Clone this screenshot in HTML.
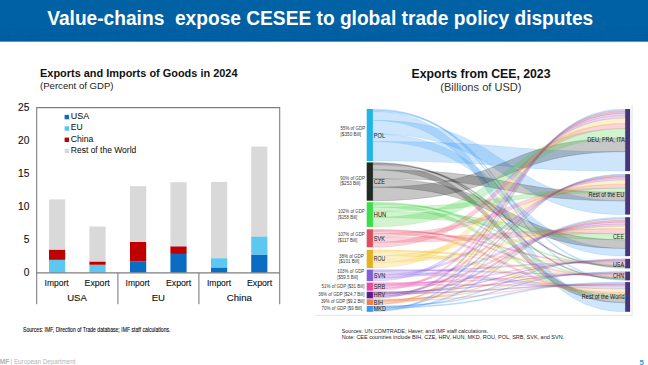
<!DOCTYPE html>
<html><head><meta charset="utf-8">
<style>
html,body{margin:0;padding:0;}
body{width:648px;height:365px;overflow:hidden;background:#fff;position:relative;font-family:"Liberation Sans",sans-serif;}
svg{position:absolute;left:0;top:0;font-family:"Liberation Sans",sans-serif;}
.nl{font-size:6.4px;fill:#222;stroke:#222;stroke-width:0.04px;}
.gl{font-size:5.0px;fill:#3a3a3a;}
.ax{font-size:10.2px;fill:#111;stroke:#111;stroke-width:0.12px;}
.xl{font-size:9.6px;fill:#111;stroke:#111;stroke-width:0.12px;}
</style></head><body>
<svg width="648" height="365" viewBox="0 0 648 365">
<rect x="0" y="0" width="648" height="41.6" fill="#0061a5"/>
<rect x="0" y="39.8" width="648" height="1.8" fill="rgba(0,50,120,0.12)"/>
<polyline points="0,29.0 12,29.3 24,29.6 36,29.8 48,30.1 60,30.3 72,30.4 84,30.5 96,30.5 108,30.5 120,30.4 132,30.2 144,30.0 156,29.8 168,29.5 180,29.2 192,28.9 204,28.6 216,28.3 228,28.1 240,27.9 252,27.7 264,27.6 276,27.5 288,27.5 300,27.6 312,27.7 324,27.8 336,28.1 348,28.3 360,28.6 372,28.9 384,29.2 396,29.5 408,29.7 420,30.0 432,30.2 444,30.3 456,30.5 468,30.5 480,30.5 492,30.4 504,30.3 516,30.1 528,29.9 540,29.6 552,29.3 564,29.0 576,28.7 588,28.5 600,28.2 612,28.0 624,27.8 636,27.6 648,27.5" fill="none" stroke="rgba(0,45,110,0.10)" stroke-width="0.6"/>
<polyline points="0,32.0 12,32.2 24,32.3 36,32.4 48,32.5 60,32.5 72,32.4 84,32.3 96,32.1 108,31.9 120,31.6 132,31.4 144,31.1 156,30.8 168,30.5 180,30.2 192,30.0 204,29.8 216,29.6 228,29.5 240,29.5 252,29.5 264,29.6 276,29.8 288,29.9 300,30.2 312,30.4 324,30.7 336,31.0 348,31.3 360,31.6 372,31.9 384,32.1 396,32.3 408,32.4 420,32.5 432,32.5 444,32.5 456,32.4 468,32.2 480,32.0 492,31.8 504,31.5 516,31.2 528,30.9 540,30.6 552,30.3 564,30.1 576,29.8 588,29.7 600,29.6 612,29.5 624,29.5 636,29.6 648,29.7" fill="none" stroke="rgba(0,45,110,0.10)" stroke-width="0.6"/>
<polyline points="0,34.5 12,34.5 24,34.5 36,34.4 48,34.2 60,34.0 72,33.8 84,33.5 96,33.2 108,32.9 120,32.6 132,32.3 144,32.1 156,31.9 168,31.7 180,31.6 192,31.5 204,31.5 216,31.6 228,31.7 240,31.8 252,32.1 264,32.3 276,32.6 288,32.9 300,33.2 312,33.5 324,33.7 336,34.0 348,34.2 360,34.3 372,34.5 384,34.5 396,34.5 408,34.4 420,34.3 432,34.1 444,33.9 456,33.6 468,33.3 480,33.0 492,32.7 504,32.5 516,32.2 528,32.0 540,31.8 552,31.6 564,31.5 576,31.5 588,31.5 600,31.6 612,31.8 624,32.0 636,32.2 648,32.5" fill="none" stroke="rgba(0,45,110,0.10)" stroke-width="0.6"/>
<polyline points="0,36.3 12,36.1 24,35.9 36,35.6 48,35.4 60,35.1 72,34.8 84,34.5 96,34.2 108,34.0 120,33.8 132,33.6 144,33.5 156,33.5 168,33.5 180,33.6 192,33.8 204,33.9 216,34.2 228,34.4 240,34.7 252,35.0 264,35.3 276,35.6 288,35.9 300,36.1 312,36.3 324,36.4 336,36.5 348,36.5 360,36.5 372,36.4 384,36.2 396,36.0 408,35.8 420,35.5 432,35.2 444,34.9 456,34.6 468,34.3 480,34.1 492,33.8 504,33.7 516,33.6 528,33.5 540,33.5 552,33.6 564,33.7 576,33.9 588,34.1 600,34.3 612,34.6 624,34.9 636,35.2 648,35.5" fill="none" stroke="rgba(0,45,110,0.10)" stroke-width="0.6"/>
<polyline points="0,37.5 12,37.2 24,36.9 36,36.6 48,36.3 60,36.1 72,35.9 84,35.7 96,35.6 108,35.5 120,35.5 132,35.6 144,35.7 156,35.8 168,36.1 180,36.3 192,36.6 204,36.9 216,37.2 228,37.5 240,37.7 252,38.0 264,38.2 276,38.3 288,38.5 300,38.5 312,38.5 324,38.4 336,38.3 348,38.1 360,37.9 372,37.6 384,37.3 396,37.0 408,36.7 420,36.5 432,36.2 444,36.0 456,35.8 468,35.6 480,35.5 492,35.5 504,35.5 516,35.6 528,35.8 540,36.0 552,36.2 564,36.5 576,36.8 588,37.1 600,37.3 612,37.6 624,37.9 636,38.1 648,38.3" fill="none" stroke="rgba(0,45,110,0.10)" stroke-width="0.6"/>
<polyline points="0,38.5 12,38.2 24,38.0 36,37.8 48,37.6 60,37.5 72,37.5 84,37.5 96,37.6 108,37.8 120,37.9 132,38.2 144,38.4 156,38.7 168,39.0 180,39.3 192,39.6 204,39.9 216,40.1 228,40.3 240,40.4 252,40.5 264,40.5 276,40.5 288,40.4 300,40.2 312,40.0 324,39.8 336,39.5 348,39.2 360,38.9 372,38.6 384,38.3 396,38.1 408,37.8 420,37.7 432,37.6 444,37.5 456,37.5 468,37.6 480,37.7 492,37.9 504,38.1 516,38.3 528,38.6 540,38.9 552,39.2 564,39.5 576,39.8 588,40.0 600,40.2 612,40.4 624,40.5 636,40.5 648,40.5" fill="none" stroke="rgba(0,45,110,0.10)" stroke-width="0.6"/>
<polyline points="0,39.7 12,39.6 24,39.5 36,39.5 48,39.6 60,39.7 72,39.8 84,40.1 96,40.3 108,40.6 120,40.9 132,41.2 144,41.5 156,41.7 168,42.0 180,42.2 192,42.3 204,42.5 216,42.5 228,42.5 240,42.4 252,42.3 264,42.1 276,41.9 288,41.6 300,41.3 312,41.0 324,40.7 336,40.5 348,40.2 360,40.0 372,39.8 384,39.6 396,39.5 408,39.5 420,39.5 432,39.6 444,39.8 456,40.0 468,40.2 480,40.5 492,40.8 504,41.1 516,41.3 528,41.6 540,41.9 552,42.1 564,42.3 576,42.4 588,42.5 600,42.5 612,42.4 624,42.3 636,42.2 648,42.0" fill="none" stroke="rgba(0,45,110,0.10)" stroke-width="0.6"/>
<path d="M6,27Q10,34 8,41.6" fill="none" stroke="rgba(0,45,110,0.08)" stroke-width="0.6"/>
<path d="M28,27Q32,34 30,41.6" fill="none" stroke="rgba(0,45,110,0.08)" stroke-width="0.6"/>
<path d="M50,27Q54,34 52,41.6" fill="none" stroke="rgba(0,45,110,0.08)" stroke-width="0.6"/>
<path d="M72,27Q76,34 74,41.6" fill="none" stroke="rgba(0,45,110,0.08)" stroke-width="0.6"/>
<path d="M94,27Q98,34 96,41.6" fill="none" stroke="rgba(0,45,110,0.08)" stroke-width="0.6"/>
<path d="M116,27Q120,34 118,41.6" fill="none" stroke="rgba(0,45,110,0.08)" stroke-width="0.6"/>
<path d="M138,27Q142,34 140,41.6" fill="none" stroke="rgba(0,45,110,0.08)" stroke-width="0.6"/>
<path d="M160,27Q164,34 162,41.6" fill="none" stroke="rgba(0,45,110,0.08)" stroke-width="0.6"/>
<path d="M182,27Q186,34 184,41.6" fill="none" stroke="rgba(0,45,110,0.08)" stroke-width="0.6"/>
<path d="M204,27Q208,34 206,41.6" fill="none" stroke="rgba(0,45,110,0.08)" stroke-width="0.6"/>
<path d="M226,27Q230,34 228,41.6" fill="none" stroke="rgba(0,45,110,0.08)" stroke-width="0.6"/>
<path d="M248,27Q252,34 250,41.6" fill="none" stroke="rgba(0,45,110,0.08)" stroke-width="0.6"/>
<path d="M270,27Q274,34 272,41.6" fill="none" stroke="rgba(0,45,110,0.08)" stroke-width="0.6"/>
<path d="M292,27Q296,34 294,41.6" fill="none" stroke="rgba(0,45,110,0.08)" stroke-width="0.6"/>
<path d="M314,27Q318,34 316,41.6" fill="none" stroke="rgba(0,45,110,0.08)" stroke-width="0.6"/>
<path d="M336,27Q340,34 338,41.6" fill="none" stroke="rgba(0,45,110,0.08)" stroke-width="0.6"/>
<path d="M358,27Q362,34 360,41.6" fill="none" stroke="rgba(0,45,110,0.08)" stroke-width="0.6"/>
<path d="M380,27Q384,34 382,41.6" fill="none" stroke="rgba(0,45,110,0.08)" stroke-width="0.6"/>
<path d="M402,27Q406,34 404,41.6" fill="none" stroke="rgba(0,45,110,0.08)" stroke-width="0.6"/>
<path d="M424,27Q428,34 426,41.6" fill="none" stroke="rgba(0,45,110,0.08)" stroke-width="0.6"/>
<path d="M446,27Q450,34 448,41.6" fill="none" stroke="rgba(0,45,110,0.08)" stroke-width="0.6"/>
<path d="M468,27Q472,34 470,41.6" fill="none" stroke="rgba(0,45,110,0.08)" stroke-width="0.6"/>
<path d="M490,27Q494,34 492,41.6" fill="none" stroke="rgba(0,45,110,0.08)" stroke-width="0.6"/>
<path d="M512,27Q516,34 514,41.6" fill="none" stroke="rgba(0,45,110,0.08)" stroke-width="0.6"/>
<path d="M534,27Q538,34 536,41.6" fill="none" stroke="rgba(0,45,110,0.08)" stroke-width="0.6"/>
<path d="M556,27Q560,34 558,41.6" fill="none" stroke="rgba(0,45,110,0.08)" stroke-width="0.6"/>
<path d="M578,27Q582,34 580,41.6" fill="none" stroke="rgba(0,45,110,0.08)" stroke-width="0.6"/>
<path d="M600,27Q604,34 602,41.6" fill="none" stroke="rgba(0,45,110,0.08)" stroke-width="0.6"/>
<path d="M622,27Q626,34 624,41.6" fill="none" stroke="rgba(0,45,110,0.08)" stroke-width="0.6"/>
<path d="M644,27Q648,34 646,41.6" fill="none" stroke="rgba(0,45,110,0.08)" stroke-width="0.6"/>
<text x="47.2" y="24.9" textLength="546" lengthAdjust="spacingAndGlyphs" style="font-size:19.5px;font-weight:bold;fill:#fff">Value-chains&#160; expose CESEE to global trade policy disputes</text>
<!-- left chart -->
<text x="40" y="77" textLength="197.5" lengthAdjust="spacingAndGlyphs" style="font-size:10.9px;font-weight:bold;fill:#111">Exports and Imports of Goods in 2024</text>
<text x="40" y="88.6" textLength="73.5" lengthAdjust="spacingAndGlyphs" style="font-size:9.8px;fill:#222">(Percent of GDP)</text>
<rect x="49.0" y="259.82" width="16.2" height="12.88" fill="#5cc7f0"/>
<rect x="49.0" y="249.59" width="16.2" height="10.24" fill="#c00000"/>
<rect x="49.0" y="199.40" width="16.2" height="50.19" fill="#d9d9d9"/>
<rect x="89.4" y="264.78" width="16.2" height="7.92" fill="#5cc7f0"/>
<rect x="89.4" y="261.47" width="16.2" height="3.30" fill="#c00000"/>
<rect x="89.4" y="226.47" width="16.2" height="35.00" fill="#d9d9d9"/>
<rect x="130.0" y="261.28" width="16.2" height="11.42" fill="#0a6cc2"/>
<rect x="130.0" y="241.99" width="16.2" height="19.28" fill="#c00000"/>
<rect x="130.0" y="186.19" width="16.2" height="55.80" fill="#d9d9d9"/>
<rect x="170.4" y="253.94" width="16.2" height="18.76" fill="#0a6cc2"/>
<rect x="170.4" y="246.28" width="16.2" height="7.66" fill="#c00000"/>
<rect x="170.4" y="182.23" width="16.2" height="64.06" fill="#d9d9d9"/>
<rect x="211.0" y="267.42" width="16.2" height="5.28" fill="#0a6cc2"/>
<rect x="211.0" y="258.17" width="16.2" height="9.25" fill="#5cc7f0"/>
<rect x="211.0" y="181.89" width="16.2" height="76.28" fill="#d9d9d9"/>
<rect x="251.2" y="254.54" width="16.2" height="18.16" fill="#0a6cc2"/>
<rect x="251.2" y="236.38" width="16.2" height="18.16" fill="#5cc7f0"/>
<rect x="251.2" y="146.56" width="16.2" height="89.81" fill="#d9d9d9"/>
<path d="M36.7,304.2V107.6H279.7V304.2" fill="none" stroke="#7f7f7f" stroke-width="1.1"/>
<path d="M36.7,272.9H279.7M117.9,272.9V304.2M198.9,272.9V304.2" fill="none" stroke="#7f7f7f" stroke-width="1.1"/>
<g class="ax" text-anchor="end">
<text x="29.4" y="110.6">25</text><text x="29.4" y="143.8">20</text><text x="29.4" y="176.8">15</text>
<text x="29.4" y="209.8">10</text><text x="29.4" y="243">5</text><text x="29.4" y="276">0</text>
</g>
<rect x="64.6" y="114.9" width="4.4" height="4.4" fill="#0a6cc2"/>
<rect x="64.6" y="126.3" width="4.4" height="4.4" fill="#55c5f0"/>
<rect x="64.6" y="137.6" width="4.4" height="4.4" fill="#c00000"/>
<rect x="64.6" y="148.7" width="4.4" height="4.4" fill="#d9d9d9"/>
<g style="font-size:9.7px;fill:#111;stroke:#111;stroke-width:0.05px">
<text x="70.8" y="118.6" textLength="18.4" lengthAdjust="spacingAndGlyphs">USA</text>
<text x="70.8" y="130.4" textLength="11.9" lengthAdjust="spacingAndGlyphs">EU</text>
<text x="70.8" y="141.6" textLength="22.6" lengthAdjust="spacingAndGlyphs">China</text>
<text x="70.8" y="153.4" textLength="65.5" lengthAdjust="spacingAndGlyphs">Rest of the World</text>
</g>
<g class="xl">
<text x="44.6" y="285.8" textLength="24" lengthAdjust="spacingAndGlyphs">Import</text><text x="84.6" y="285.8" textLength="25.2" lengthAdjust="spacingAndGlyphs">Export</text>
<text x="125.6" y="285.8" textLength="24" lengthAdjust="spacingAndGlyphs">Import</text><text x="166" y="285.8" textLength="25.2" lengthAdjust="spacingAndGlyphs">Export</text>
<text x="207" y="285.8" textLength="24" lengthAdjust="spacingAndGlyphs">Import</text><text x="247" y="285.8" textLength="25.2" lengthAdjust="spacingAndGlyphs">Export</text>
<text x="77" y="301.3" text-anchor="middle">USA</text><text x="158.3" y="301.3" text-anchor="middle">EU</text><text x="239.3" y="301.3" text-anchor="middle">China</text>
</g>
<text x="23" y="331.5" textLength="147.5" lengthAdjust="spacingAndGlyphs" style="font-size:6.6px;fill:#000;stroke:#000;stroke-width:0.08px">Sources: IMF, Direction of Trade database; IMF staff calculations.</text>

<!-- right chart -->
<text x="411.5" y="77.8" textLength="139" lengthAdjust="spacingAndGlyphs" style="font-size:12.2px;font-weight:bold;fill:#111">Exports from CEE, 2023</text>
<text x="440.3" y="91.3" textLength="81.2" lengthAdjust="spacingAndGlyphs" style="font-size:11px;fill:#333">(Billions of USD)</text>
<path d="M315.5,315.3H632.1V105" fill="none" stroke="#e4e4e4" stroke-width="1"/>
<path d="M372.8,141.60C511.7,141.60 499.0,151.65 625.3,151.65L625.3,171.10C499.0,171.10 511.7,161.00 372.8,161.00Z" fill="rgba(30,140,240,0.22)" stroke="rgba(30,140,240,0.32)" stroke-width="0.4"/>
<path d="M372.8,120.35C511.7,120.35 499.0,200.93 625.3,200.93L625.3,214.60C499.0,214.60 511.7,133.99 372.8,133.99Z" fill="rgba(30,140,240,0.22)" stroke="rgba(30,140,240,0.32)" stroke-width="0.4"/>
<path d="M372.8,133.99C511.7,133.99 499.0,248.47 625.3,248.47L625.3,256.10C499.0,256.10 511.7,141.60 372.8,141.60Z" fill="rgba(30,140,240,0.22)" stroke="rgba(30,140,240,0.32)" stroke-width="0.4"/>
<path d="M372.8,110.08C511.7,110.08 499.0,267.14 625.3,267.14L625.3,268.40C499.0,268.40 511.7,111.34 372.8,111.34Z" fill="rgba(30,140,240,0.22)" stroke="rgba(30,140,240,0.32)" stroke-width="0.4"/>
<path d="M372.8,109.00C511.7,109.00 499.0,279.32 625.3,279.32L625.3,280.40C499.0,280.40 511.7,110.08 372.8,110.08Z" fill="rgba(30,140,240,0.22)" stroke="rgba(30,140,240,0.32)" stroke-width="0.4"/>
<path d="M372.8,111.34C511.7,111.34 499.0,302.76 625.3,302.76L625.3,311.80C499.0,311.80 511.7,120.35 372.8,120.35Z" fill="rgba(30,140,240,0.22)" stroke="rgba(30,140,240,0.32)" stroke-width="0.4"/>
<path d="M372.8,187.13C511.7,187.13 499.0,138.05 625.3,138.05L625.3,151.65C499.0,151.65 511.7,200.70 372.8,200.70Z" fill="rgba(0,0,0,0.22)" stroke="rgba(0,0,0,0.32)" stroke-width="0.4"/>
<path d="M372.8,169.83C511.7,169.83 499.0,192.23 625.3,192.23L625.3,200.93C499.0,200.93 511.7,178.50 372.8,178.50Z" fill="rgba(0,0,0,0.22)" stroke="rgba(0,0,0,0.32)" stroke-width="0.4"/>
<path d="M372.8,178.50C511.7,178.50 499.0,239.82 625.3,239.82L625.3,248.47C499.0,248.47 511.7,187.13 372.8,187.13Z" fill="rgba(0,0,0,0.22)" stroke="rgba(0,0,0,0.32)" stroke-width="0.4"/>
<path d="M372.8,163.40C511.7,163.40 499.0,266.04 625.3,266.04L625.3,267.14C499.0,267.14 511.7,164.50 372.8,164.50Z" fill="rgba(0,0,0,0.22)" stroke="rgba(0,0,0,0.32)" stroke-width="0.4"/>
<path d="M372.8,162.40C511.7,162.40 499.0,278.32 625.3,278.32L625.3,279.32C499.0,279.32 511.7,163.40 372.8,163.40Z" fill="rgba(0,0,0,0.22)" stroke="rgba(0,0,0,0.32)" stroke-width="0.4"/>
<path d="M372.8,164.50C511.7,164.50 499.0,297.41 625.3,297.41L625.3,302.76C499.0,302.76 511.7,169.83 372.8,169.83Z" fill="rgba(0,0,0,0.22)" stroke="rgba(0,0,0,0.32)" stroke-width="0.4"/>
<path d="M372.8,217.41C511.7,217.41 499.0,128.53 625.3,128.53L625.3,138.05C499.0,138.05 511.7,226.90 372.8,226.90Z" fill="rgba(40,200,40,0.22)" stroke="rgba(40,200,40,0.32)" stroke-width="0.4"/>
<path d="M372.8,207.10C511.7,207.10 499.0,188.00 625.3,188.00L625.3,192.23C499.0,192.23 511.7,211.32 372.8,211.32Z" fill="rgba(40,200,40,0.22)" stroke="rgba(40,200,40,0.32)" stroke-width="0.4"/>
<path d="M372.8,211.32C511.7,211.32 499.0,233.71 625.3,233.71L625.3,239.82C499.0,239.82 511.7,217.41 372.8,217.41Z" fill="rgba(40,200,40,0.22)" stroke="rgba(40,200,40,0.32)" stroke-width="0.4"/>
<path d="M372.8,203.20C511.7,203.20 499.0,264.94 625.3,264.94L625.3,266.04C499.0,266.04 511.7,204.29 372.8,204.29Z" fill="rgba(40,200,40,0.22)" stroke="rgba(40,200,40,0.32)" stroke-width="0.4"/>
<path d="M372.8,202.20C511.7,202.20 499.0,277.31 625.3,277.31L625.3,278.32C499.0,278.32 511.7,203.20 372.8,203.20Z" fill="rgba(40,200,40,0.22)" stroke="rgba(40,200,40,0.32)" stroke-width="0.4"/>
<path d="M372.8,204.29C511.7,204.29 499.0,294.60 625.3,294.60L625.3,297.41C499.0,297.41 511.7,207.10 372.8,207.10Z" fill="rgba(40,200,40,0.22)" stroke="rgba(40,200,40,0.32)" stroke-width="0.4"/>
<path d="M372.8,242.35C511.7,242.35 499.0,123.57 625.3,123.57L625.3,128.53C499.0,128.53 511.7,247.30 372.8,247.30Z" fill="rgba(230,60,90,0.22)" stroke="rgba(230,60,90,0.32)" stroke-width="0.4"/>
<path d="M372.8,233.58C511.7,233.58 499.0,184.21 625.3,184.21L625.3,188.00C499.0,188.00 511.7,237.35 372.8,237.35Z" fill="rgba(230,60,90,0.22)" stroke="rgba(230,60,90,0.32)" stroke-width="0.4"/>
<path d="M372.8,237.35C511.7,237.35 499.0,228.69 625.3,228.69L625.3,233.71C499.0,233.71 511.7,242.35 372.8,242.35Z" fill="rgba(230,60,90,0.22)" stroke="rgba(230,60,90,0.32)" stroke-width="0.4"/>
<path d="M372.8,230.35C511.7,230.35 499.0,263.80 625.3,263.80L625.3,264.94C499.0,264.94 511.7,231.48 372.8,231.48Z" fill="rgba(230,60,90,0.22)" stroke="rgba(230,60,90,0.32)" stroke-width="0.4"/>
<path d="M372.8,229.30C511.7,229.30 499.0,276.27 625.3,276.27L625.3,277.31C499.0,277.31 511.7,230.35 372.8,230.35Z" fill="rgba(230,60,90,0.22)" stroke="rgba(230,60,90,0.32)" stroke-width="0.4"/>
<path d="M372.8,231.48C511.7,231.48 499.0,292.50 625.3,292.50L625.3,294.60C499.0,294.60 511.7,233.58 372.8,233.58Z" fill="rgba(230,60,90,0.22)" stroke="rgba(230,60,90,0.32)" stroke-width="0.4"/>
<path d="M372.8,262.45C511.7,262.45 499.0,118.01 625.3,118.01L625.3,123.57C499.0,123.57 511.7,268.00 372.8,268.00Z" fill="rgba(240,190,20,0.22)" stroke="rgba(240,190,20,0.32)" stroke-width="0.4"/>
<path d="M372.8,255.51C511.7,255.51 499.0,179.88 625.3,179.88L625.3,184.21C499.0,184.21 511.7,259.82 372.8,259.82Z" fill="rgba(240,190,20,0.22)" stroke="rgba(240,190,20,0.32)" stroke-width="0.4"/>
<path d="M372.8,259.82C511.7,259.82 499.0,226.06 625.3,226.06L625.3,228.69C499.0,228.69 511.7,262.45 372.8,262.45Z" fill="rgba(240,190,20,0.22)" stroke="rgba(240,190,20,0.32)" stroke-width="0.4"/>
<path d="M372.8,250.77C511.7,250.77 499.0,262.67 625.3,262.67L625.3,263.80C499.0,263.80 511.7,251.90 372.8,251.90Z" fill="rgba(240,190,20,0.22)" stroke="rgba(240,190,20,0.32)" stroke-width="0.4"/>
<path d="M372.8,249.80C511.7,249.80 499.0,275.30 625.3,275.30L625.3,276.27C499.0,276.27 511.7,250.77 372.8,250.77Z" fill="rgba(240,190,20,0.22)" stroke="rgba(240,190,20,0.32)" stroke-width="0.4"/>
<path d="M372.8,251.90C511.7,251.90 499.0,288.88 625.3,288.88L625.3,292.50C499.0,292.50 511.7,255.51 372.8,255.51Z" fill="rgba(240,190,20,0.22)" stroke="rgba(240,190,20,0.32)" stroke-width="0.4"/>
<path d="M372.8,278.41C511.7,278.41 499.0,115.32 625.3,115.32L625.3,118.01C499.0,118.01 511.7,281.10 372.8,281.10Z" fill="rgba(130,90,220,0.22)" stroke="rgba(130,90,220,0.32)" stroke-width="0.4"/>
<path d="M372.8,274.60C511.7,274.60 499.0,178.02 625.3,178.02L625.3,179.88C499.0,179.88 511.7,276.46 372.8,276.46Z" fill="rgba(130,90,220,0.22)" stroke="rgba(130,90,220,0.32)" stroke-width="0.4"/>
<path d="M372.8,276.46C511.7,276.46 499.0,224.10 625.3,224.10L625.3,226.06C499.0,226.06 511.7,278.41 372.8,278.41Z" fill="rgba(130,90,220,0.22)" stroke="rgba(130,90,220,0.32)" stroke-width="0.4"/>
<path d="M372.8,270.58C511.7,270.58 499.0,261.59 625.3,261.59L625.3,262.67C499.0,262.67 511.7,271.66 372.8,271.66Z" fill="rgba(130,90,220,0.22)" stroke="rgba(130,90,220,0.32)" stroke-width="0.4"/>
<path d="M372.8,269.60C511.7,269.60 499.0,274.31 625.3,274.31L625.3,275.30C499.0,275.30 511.7,270.58 372.8,270.58Z" fill="rgba(130,90,220,0.22)" stroke="rgba(130,90,220,0.32)" stroke-width="0.4"/>
<path d="M372.8,271.66C511.7,271.66 499.0,285.93 625.3,285.93L625.3,288.88C499.0,288.88 511.7,274.60 372.8,274.60Z" fill="rgba(130,90,220,0.22)" stroke="rgba(130,90,220,0.32)" stroke-width="0.4"/>
<path d="M372.8,288.64C511.7,288.64 499.0,113.26 625.3,113.26L625.3,115.32C499.0,115.32 511.7,290.70 372.8,290.70Z" fill="rgba(230,70,170,0.22)" stroke="rgba(230,70,170,0.32)" stroke-width="0.4"/>
<path d="M372.8,285.41C511.7,285.41 499.0,176.76 625.3,176.76L625.3,178.02C499.0,178.02 511.7,286.66 372.8,286.66Z" fill="rgba(230,70,170,0.22)" stroke="rgba(230,70,170,0.32)" stroke-width="0.4"/>
<path d="M372.8,286.66C511.7,286.66 499.0,222.11 625.3,222.11L625.3,224.10C499.0,224.10 511.7,288.64 372.8,288.64Z" fill="rgba(230,70,170,0.22)" stroke="rgba(230,70,170,0.32)" stroke-width="0.4"/>
<path d="M372.8,283.43C511.7,283.43 499.0,260.66 625.3,260.66L625.3,261.59C499.0,261.59 511.7,284.36 372.8,284.36Z" fill="rgba(230,70,170,0.22)" stroke="rgba(230,70,170,0.32)" stroke-width="0.4"/>
<path d="M372.8,282.60C511.7,282.60 499.0,273.48 625.3,273.48L625.3,274.31C499.0,274.31 511.7,283.43 372.8,283.43Z" fill="rgba(230,70,170,0.22)" stroke="rgba(230,70,170,0.32)" stroke-width="0.4"/>
<path d="M372.8,284.36C511.7,284.36 499.0,284.88 625.3,284.88L625.3,285.93C499.0,285.93 511.7,285.41 372.8,285.41Z" fill="rgba(230,70,170,0.22)" stroke="rgba(230,70,170,0.32)" stroke-width="0.4"/>
<path d="M372.8,296.56C511.7,296.56 499.0,111.41 625.3,111.41L625.3,113.26C499.0,113.26 511.7,298.40 372.8,298.40Z" fill="rgba(110,40,150,0.22)" stroke="rgba(110,40,150,0.32)" stroke-width="0.4"/>
<path d="M372.8,293.85C511.7,293.85 499.0,175.73 625.3,175.73L625.3,176.76C499.0,176.76 511.7,294.88 372.8,294.88Z" fill="rgba(110,40,150,0.22)" stroke="rgba(110,40,150,0.32)" stroke-width="0.4"/>
<path d="M372.8,294.88C511.7,294.88 499.0,220.43 625.3,220.43L625.3,222.11C499.0,222.11 511.7,296.56 372.8,296.56Z" fill="rgba(110,40,150,0.22)" stroke="rgba(110,40,150,0.32)" stroke-width="0.4"/>
<path d="M372.8,292.35C511.7,292.35 499.0,260.01 625.3,260.01L625.3,260.66C499.0,260.66 511.7,293.00 372.8,293.00Z" fill="rgba(110,40,150,0.22)" stroke="rgba(110,40,150,0.32)" stroke-width="0.4"/>
<path d="M372.8,291.70C511.7,291.70 499.0,272.82 625.3,272.82L625.3,273.48C499.0,273.48 511.7,292.35 372.8,292.35Z" fill="rgba(110,40,150,0.22)" stroke="rgba(110,40,150,0.32)" stroke-width="0.4"/>
<path d="M372.8,293.00C511.7,293.00 499.0,284.04 625.3,284.04L625.3,284.88C499.0,284.88 511.7,293.85 372.8,293.85Z" fill="rgba(110,40,150,0.22)" stroke="rgba(110,40,150,0.32)" stroke-width="0.4"/>
<path d="M372.8,303.93C511.7,303.93 499.0,110.23 625.3,110.23L625.3,111.41C499.0,111.41 511.7,305.10 372.8,305.10Z" fill="rgba(240,120,50,0.22)" stroke="rgba(240,120,50,0.32)" stroke-width="0.4"/>
<path d="M372.8,301.37C511.7,301.37 499.0,174.94 625.3,174.94L625.3,175.73C499.0,175.73 511.7,302.16 372.8,302.16Z" fill="rgba(240,120,50,0.22)" stroke="rgba(240,120,50,0.32)" stroke-width="0.4"/>
<path d="M372.8,302.16C511.7,302.16 499.0,218.66 625.3,218.66L625.3,220.43C499.0,220.43 511.7,303.93 372.8,303.93Z" fill="rgba(240,120,50,0.22)" stroke="rgba(240,120,50,0.32)" stroke-width="0.4"/>
<path d="M372.8,299.89C511.7,299.89 499.0,259.42 625.3,259.42L625.3,260.01C499.0,260.01 511.7,300.48 372.8,300.48Z" fill="rgba(240,120,50,0.22)" stroke="rgba(240,120,50,0.32)" stroke-width="0.4"/>
<path d="M372.8,299.30C511.7,299.30 499.0,272.23 625.3,272.23L625.3,272.82C499.0,272.82 511.7,299.89 372.8,299.89Z" fill="rgba(240,120,50,0.22)" stroke="rgba(240,120,50,0.32)" stroke-width="0.4"/>
<path d="M372.8,300.48C511.7,300.48 499.0,283.14 625.3,283.14L625.3,284.04C499.0,284.04 511.7,301.37 372.8,301.37Z" fill="rgba(240,120,50,0.22)" stroke="rgba(240,120,50,0.32)" stroke-width="0.4"/>
<path d="M372.8,310.57C511.7,310.57 499.0,109.00 625.3,109.00L625.3,110.23C499.0,110.23 511.7,311.80 372.8,311.80Z" fill="rgba(40,130,240,0.22)" stroke="rgba(40,130,240,0.32)" stroke-width="0.4"/>
<path d="M372.8,308.28C511.7,308.28 499.0,174.10 625.3,174.10L625.3,174.94C499.0,174.94 511.7,309.12 372.8,309.12Z" fill="rgba(40,130,240,0.22)" stroke="rgba(40,130,240,0.32)" stroke-width="0.4"/>
<path d="M372.8,309.12C511.7,309.12 499.0,217.20 625.3,217.20L625.3,218.66C499.0,218.66 511.7,310.57 372.8,310.57Z" fill="rgba(40,130,240,0.22)" stroke="rgba(40,130,240,0.32)" stroke-width="0.4"/>
<path d="M372.8,306.62C511.7,306.62 499.0,258.80 625.3,258.80L625.3,259.42C499.0,259.42 511.7,307.24 372.8,307.24Z" fill="rgba(40,130,240,0.22)" stroke="rgba(40,130,240,0.32)" stroke-width="0.4"/>
<path d="M372.8,306.00C511.7,306.00 499.0,271.60 625.3,271.60L625.3,272.23C499.0,272.23 511.7,306.62 372.8,306.62Z" fill="rgba(40,130,240,0.22)" stroke="rgba(40,130,240,0.32)" stroke-width="0.4"/>
<path d="M372.8,307.24C511.7,307.24 499.0,282.10 625.3,282.10L625.3,283.14C499.0,283.14 511.7,308.28 372.8,308.28Z" fill="rgba(40,130,240,0.22)" stroke="rgba(40,130,240,0.32)" stroke-width="0.4"/>
<rect x="366.7" y="109.0" width="6.2" height="52.0" fill="#22b4e8"/>
<rect x="366.7" y="162.4" width="6.2" height="38.3" fill="#1f2a22"/>
<rect x="366.7" y="202.2" width="6.2" height="24.7" fill="#3ddc48"/>
<rect x="366.7" y="229.3" width="6.2" height="18.0" fill="#dc4d5e"/>
<rect x="366.7" y="249.8" width="6.2" height="18.2" fill="#e2b221"/>
<rect x="366.7" y="269.6" width="6.2" height="11.5" fill="#8060d2"/>
<rect x="366.7" y="282.6" width="6.2" height="8.1" fill="#e34ba3"/>
<rect x="366.7" y="291.7" width="6.2" height="6.7" fill="#5c1b8c"/>
<rect x="366.7" y="299.3" width="6.2" height="5.8" fill="#ef7f42"/>
<rect x="366.7" y="306.0" width="6.2" height="5.8" fill="#3598f0"/>
<text x="373.8" y="137.6" textLength="11.3" lengthAdjust="spacingAndGlyphs" class="nl">POL</text>
<text x="373.8" y="184.4" textLength="11.1" lengthAdjust="spacingAndGlyphs" class="nl">CZE</text>
<text x="373.8" y="217.3" textLength="12.4" lengthAdjust="spacingAndGlyphs" class="nl">HUN</text>
<text x="373.8" y="240.8" textLength="11.0" lengthAdjust="spacingAndGlyphs" class="nl">SVK</text>
<text x="373.8" y="261.3" textLength="11.5" lengthAdjust="spacingAndGlyphs" class="nl">ROU</text>
<text x="373.8" y="278.3" textLength="11.5" lengthAdjust="spacingAndGlyphs" class="nl">SVN</text>
<text x="373.8" y="289.1" textLength="11.5" lengthAdjust="spacingAndGlyphs" class="nl">SRB</text>
<text x="373.8" y="297.0" textLength="11.3" lengthAdjust="spacingAndGlyphs" class="nl">HRV</text>
<text x="373.8" y="304.5" textLength="9.0" lengthAdjust="spacingAndGlyphs" class="nl">BIH</text>
<text x="373.8" y="311.0" textLength="12.0" lengthAdjust="spacingAndGlyphs" class="nl">MKD</text>
<text x="340.5" y="129.7" textLength="24.6" lengthAdjust="spacingAndGlyphs" class="gl">55% of GDP</text>
<text x="340.5" y="135.8" textLength="20.6" lengthAdjust="spacingAndGlyphs" class="gl">[$350 Bill]</text>
<text x="340.3" y="179.5" textLength="24.7" lengthAdjust="spacingAndGlyphs" class="gl">90% of GDP</text>
<text x="340.3" y="185.2" textLength="20.1" lengthAdjust="spacingAndGlyphs" class="gl">[$253 Bill]</text>
<text x="338.0" y="213.2" textLength="26.7" lengthAdjust="spacingAndGlyphs" class="gl">102% of GDP</text>
<text x="338.0" y="219.0" textLength="19.3" lengthAdjust="spacingAndGlyphs" class="gl">[$158 Bill]</text>
<text x="338.0" y="236.0" textLength="26.7" lengthAdjust="spacingAndGlyphs" class="gl">107% of GDP</text>
<text x="338.0" y="241.8" textLength="19.3" lengthAdjust="spacingAndGlyphs" class="gl">[$117 Bill]</text>
<text x="339.0" y="258.0" textLength="24.7" lengthAdjust="spacingAndGlyphs" class="gl">38% of GDP</text>
<text x="339.0" y="263.4" textLength="20.2" lengthAdjust="spacingAndGlyphs" class="gl">[$101 Bill]</text>
<text x="337.2" y="273.1" textLength="27.1" lengthAdjust="spacingAndGlyphs" class="gl">103% of GDP</text>
<text x="337.2" y="278.8" textLength="20.7" lengthAdjust="spacingAndGlyphs" class="gl">[$59.5 Bill]</text>
<text x="321.5" y="287.5" textLength="43.0" lengthAdjust="spacingAndGlyphs" class="gl">51% of GDP [$31 Bill]</text>
<text x="318.2" y="295.9" textLength="46.3" lengthAdjust="spacingAndGlyphs" class="gl">36% of GDP [$24.7 Bill]</text>
<text x="320.9" y="302.7" textLength="43.6" lengthAdjust="spacingAndGlyphs" class="gl">39% of GDP [$9.2 Bill]</text>
<text x="321.5" y="310.1" textLength="40.6" lengthAdjust="spacingAndGlyphs" class="gl">70% of GDP [$9 Bill]</text>
<rect x="625.2" y="109.0" width="4.9" height="62.1" fill="#473479"/>
<rect x="625.2" y="174.1" width="4.9" height="40.5" fill="#473479"/>
<rect x="625.2" y="217.2" width="4.9" height="38.9" fill="#473479"/>
<rect x="625.2" y="258.8" width="4.9" height="9.6" fill="#473479"/>
<rect x="625.2" y="271.6" width="4.9" height="8.8" fill="#473479"/>
<rect x="625.2" y="282.1" width="4.9" height="29.7" fill="#473479"/>
<text x="587.2" y="142.3" textLength="37.5" lengthAdjust="spacingAndGlyphs" class="nl">DEU, FRA, ITA</text>
<text x="588.6" y="196.6" textLength="35.5" lengthAdjust="spacingAndGlyphs" class="nl">Rest of the EU</text>
<text x="612.9" y="238.6" textLength="11.1" lengthAdjust="spacingAndGlyphs" class="nl">CEE</text>
<text x="612.9" y="266.6" textLength="11.1" lengthAdjust="spacingAndGlyphs" class="nl">USA</text>
<text x="612.9" y="278.3" textLength="11.1" lengthAdjust="spacingAndGlyphs" class="nl">CHN</text>
<text x="581.8" y="299.4" textLength="42.7" lengthAdjust="spacingAndGlyphs" class="nl">Rest of the World</text>
<text x="341.7" y="332.8" textLength="146.5" lengthAdjust="spacingAndGlyphs" style="font-size:6.0px;fill:#222">Sources: UN COMTRADE; Haver; and IMF staff calculations.</text>
<text x="341.7" y="338.7" textLength="222.5" lengthAdjust="spacingAndGlyphs" style="font-size:6.0px;fill:#222">Note: CEE countries include BIH, CZE, HRV, HUN, MKD, ROU, POL, SRB, SVK, and SVN.</text>

<text x="9.5" y="363.8" text-anchor="end" style="font-size:6.8px;font-weight:bold;fill:#b4b4b4">IMF</text>
<text x="10.6" y="363.8" textLength="64.8" lengthAdjust="spacingAndGlyphs" style="font-size:6.8px;fill:#b4b4b4">| European Department</text>
<text x="639.6" y="364.6" style="font-size:7.8px;font-weight:bold;fill:#2a9fe0">5</text>
</svg>
</body></html>
